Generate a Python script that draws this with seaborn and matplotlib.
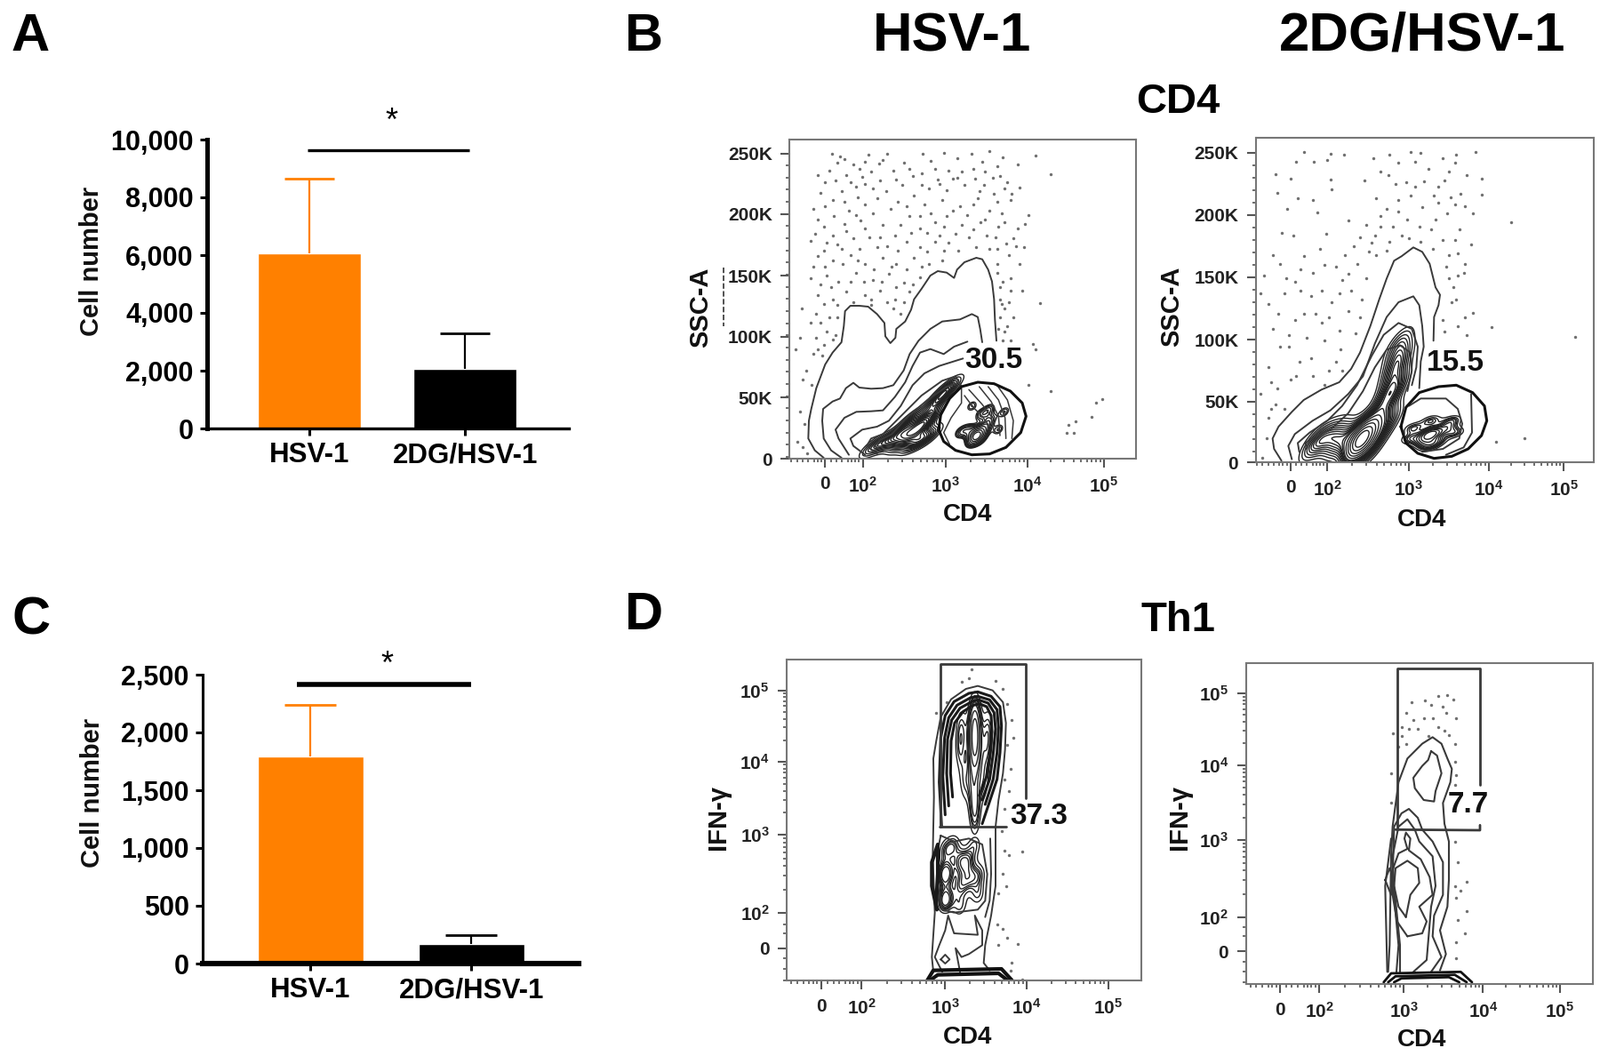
import numpy as np
import pandas as pd
import matplotlib
matplotlib.use("Agg")
import matplotlib.pyplot as plt
import seaborn as sns

W, H = 1800, 1188

sns.set_theme(style="white")
plt.rcParams["font.family"] = ["Liberation Sans", "DejaVu Sans"]
plt.rcParams["mathtext.fontset"] = "custom"
plt.rcParams["mathtext.bf"] = "Liberation Sans:bold"
plt.rcParams["mathtext.rm"] = "Liberation Sans:bold"

# bar data
groups = ["HSV-1", "2DG/HSV-1"]
bar_colors = ["#ff8000", "#000000"]
a_values = [6050, 2050]
a_errors = [2600, 1250]
c_values = [1790, 170]
c_errors = [450, 75]
a_ticks = [0, 2000, 4000, 6000, 8000, 10000]
c_ticks = [0, 500, 1000, 1500, 2000, 2500]

ssc_labels = ["0", "50K", "100K", "150K", "200K", "250K"]
ifn_labels = ["0", r"$\mathbf{10^2}$", r"$\mathbf{10^3}$", r"$\mathbf{10^4}$", r"$\mathbf{10^5}$"]
cd4_labels = ["0", r"$\mathbf{10^2}$", r"$\mathbf{10^3}$", r"$\mathbf{10^4}$", r"$\mathbf{10^5}$"]

b1_outer = [(500,1125),(470,1100),(448,1060),(450,1000),(458,960),(475,890),(505,810),(530,770),(560,735),(568,680),(572,630),(590,612),(620,612),(650,615),(680,640),(705,670),(708,715),(725,738),(742,720),(745,690),(775,665),(795,625),(805,590),(830,555),(860,510),(885,495),(915,500),(940,518),(950,490),(975,465),(1015,450),(1035,455),(1055,490),(1068,530),(1075,590),(1078,660),(1083,730)]
b1_second = [(560,1125),(525,1100),(500,1060),(495,1000),(498,960),(530,935),(555,925),(575,890),(600,872),(620,888),(660,892),(700,890),(735,880),(770,830),(790,775),(820,730),(860,690),(900,665),(960,658),(1000,640),(1020,650),(1028,690),(1035,735)]
b1_third = [(585,1115),(550,1060),(540,1030),(570,990),(610,970),(660,968),(700,965),(740,920),(775,870),(800,815),(825,770),(860,758),(905,775),(940,750),(985,733)]
b1_fourth = [(640,1115),(600,1085),(590,1060),(630,1030),(680,1020),(720,1000),(760,950),(800,880),(840,840),(890,815),(970,790)]
b1_blob_a = [(680,1112),(645,1085),(660,1060),(700,1045),(760,985),(830,915),(900,865),(945,850),(965,885)]
b1_blob_b = [(700,1105),(672,1085),(690,1065),(730,1045),(785,985),(850,930),(915,885),(945,875)]
b1_arcs = [[(1135,1060),(1140,1000),(1120,930),(1085,880)],
           [(1115,1060),(1112,990),(1090,930),(1055,885)],
           [(1095,1050),(1090,985),(1065,935),(1025,885)],
           [(1075,1040),(1065,985),(1035,945),(990,895)],
           [(1060,1020),(1035,985),(1005,955),(975,915)],
           [(965,890),(965,940),(930,990),(905,1040),(925,1080)]]
b1_gate = [(888,1030),(895,980),(925,925),(965,885),(1020,870),(1075,875),(1130,900),(1170,940),(1183,985),(1165,1040),(1115,1090),(1060,1112),(1000,1115),(945,1100),(905,1070),(888,1030)]
b1_left_peaks = [(700,1075),(740,1060),(770,1030),(820,1030),(800,1075),(850,990),(880,940),(930,880),(760,1075),(830,1060),(860,1050),(800,990),(660,1090),(900,910),(790,1040),(840,1010)]
b1_right_peaks = [(1020,1050),(1010,1060),(1040,1030),(1000,1070),(1060,1000),(1030,980),(985,1030),(1090,1030),(960,1040),(1060,960),(1000,950),(1110,970),(1020,1040),(1030,1060),(1005,1045)]
b1_dots = [(528,100),(555,108),(650,102),(715,100),(835,100),(905,97),(1000,100),(1060,90),(1105,112),(1215,105),
(545,128),(600,135),(640,125),(688,132),(770,130),(860,122),(950,115),(1035,125),(1085,140),(1155,135),
(480,170),(520,155),(575,170),(630,178),(735,155),(800,175),(885,185),(935,183),(1010,183),(1070,180),(1265,168),
(490,232),(560,225),(610,210),(665,215),(710,225),(805,240),(855,215),(915,222),(975,205),(1040,205),(1110,215),(1160,212),
(465,285),(505,275),(585,292),(640,270),(750,262),(825,310),(875,330),(935,290),(1005,270),(1060,290),(1130,255),(1190,305),
(500,345),(570,335),(625,325),(690,380),(760,340),(825,350),(905,345),(965,340),(1030,330),(1090,345),(1155,350),(1180,335),
(455,392),(510,400),(545,405),(600,385),(655,380),(715,410),(780,395),(825,415),(875,395),(920,400),(990,380),(1050,375),(1115,402),(1175,415),
(480,445),(530,460),(590,440),(640,470),(700,450),(745,470),(805,450),(855,470),(900,460),(1060,420),(1125,440),(1160,470),
(455,520),(510,510),(550,530),(610,500),(665,525),(720,505),(770,535),(825,515),(1085,500),(1130,520),(1170,562),
(480,575),(530,590),(575,565),(640,575),(690,560),(740,590),(790,565),(1095,590),(1110,620),(1230,602),
(425,620),(475,640),(545,650),(490,670),(735,620),(760,640),(1095,650),(1120,680),(1110,700),
(455,670),(420,720),(475,720),(500,745),(540,710),(1105,730),(1205,740),
(405,760),(465,775),(495,780),(440,830),(430,860),(460,880),(1215,760),
(420,970),(435,1010),(410,1070),(430,1090),(445,1110),(1190,880),(1265,900),(1420,940),(1440,928),(1405,988),(1350,1002),(1325,1015),(1320,1040),(1345,1040)]
b1_dots_more = [(570,118),(620,150),(660,160),(700,120),(745,185),(790,150),(830,165),(875,150),(920,155),(965,160),(1005,150),(1045,160),(1095,175),(1120,195),
(505,195),(540,190),(590,195),(640,200),(690,190),(765,205),(830,205),(890,200),(950,180),(1025,225),(1075,235),(1135,235),
(530,255),(570,260),(615,245),(680,250),(725,285),(780,275),(840,270),(900,255),(960,275),(1020,250),(1085,260),(1100,300),
(480,320),(535,310),(610,305),(665,300),(700,340),(790,310),(860,300),(915,310),(985,305),(1045,320),(1110,330),
(470,370),(530,375),(575,360),(640,350),(740,375),(795,365),(850,365),(890,375),(945,370),(1005,355),(1080,380),(1140,385),
(500,425),(560,420),(620,420),(680,415),(750,425),(850,430),(905,425),(955,425),(1015,415),(1085,420),(1150,410),
(465,480),(505,480),(565,470),(615,460),(670,490),(730,480),(780,490),(830,480),(1085,470),(1105,530),(1130,560),
(490,540),(525,550),(590,530),(635,530),(695,530),(745,550),(800,540),(1095,550),(1125,600),
(500,605),(545,610),(600,600),(660,590),(715,600),(770,600),(1100,605),(1140,650),
(520,650),(510,700),(480,760),(1090,690),(1130,730),(530,725),(660,610)]

b2_outer = [(455,1135),(430,1095),(425,1060),(445,1020),(490,970),(530,930),(590,895),(650,870),(690,825),(720,770),(755,680),(785,590),(810,520),(835,460),(860,445),(900,415),(930,430),(955,470),(965,510),(975,550),(990,575),(985,610),(970,650),(968,730)]
b2_second = [(490,1130),(478,1085),(500,1045),(560,1000),(620,965),(680,910),(730,850),(770,740),(810,650),(850,600),(900,580),(920,610),(930,680),(935,750),(925,800),(920,890)]
b2_third = [(515,1105),(510,1075),(550,1040),(610,1000),(660,950),(710,880),(760,780),(800,710),(850,670),(895,690),(915,750),(910,820),(895,880)]
b2_fourth = [(540,1095),(535,1075),(565,1055),(620,1030),(680,975),(730,900),(770,820),(810,760),(855,745),(890,770),(895,830),(880,900)]
b2_gate_outer = [(885,950),(925,925),(1010,925),(1050,960),(1065,1010),(1055,1060),(1000,1095),(930,1105)]
b2_gate_line = [(1095,910),(1098,1040),(1070,1090),(1010,1115)]
b2_gate = [(858,1020),(875,955),(920,905),(985,885),(1045,880),(1100,905),(1140,950),(1148,1000),(1130,1050),(1085,1095),(1030,1120),(970,1127),(915,1110),(875,1075),(858,1020)]
b2_left_peaks = [(720,1050),(700,1100),(760,1090),(650,1080),(780,1000),(810,920),(835,840),(850,790),(600,1060),(820,1000),(740,1060),(840,890),(560,1080),(640,1050),(720,1060),(710,1040),(730,1090),(850,740)]
b2_right_peaks = [(960,1045),(930,1070),(980,1070),(900,1025),(1010,1025),(960,1000),(1040,1040),(890,1060),(1030,1000),(950,1085),(965,1040),(950,1050)]
b2_dots = [(530,92),(620,100),(665,103),(820,103),(890,92),(925,97),(1045,103),(1110,93),
(485,183),(505,125),(565,125),(610,120),(765,115),(850,130),(905,125),(1000,115),(1020,160),(1080,170),(1130,183),
(435,168),(620,185),(735,190),(815,170),(875,195),(935,192),(985,210),(1040,130),
(440,232),(510,250),(560,255),(625,220),(850,255),(890,240),(970,240),(1130,238),(1075,275),
(475,285),(575,298),(680,325),(790,310),(850,295),(930,280),(1015,300),(1230,330),
(455,365),(495,375),(605,370),(720,380),(770,375),(860,375),(960,355),(1095,405),
(425,440),(530,445),(585,420),(670,440),(750,430),(810,425),(1050,435),(1010,480),
(395,510),(450,470),(500,530),(600,475),(660,525),(710,470),(1070,500),(1035,550),
(385,570),(410,605),(465,570),(555,580),(625,600),(690,560),(1030,600),(1100,635),
(425,690),(480,710),(530,640),(590,670),(650,695),(705,705),(1000,660),(1165,685),(1080,710),(1445,718),
(410,820),(480,750),(515,800),(555,790),(615,830),(655,760),(485,860),(440,890),
(385,910),(435,945),(465,960),(410,990),(405,1060),(390,1125),(1180,1070),(1275,1058)]
b2_dots_more = [(790,160),(840,200),(905,210),(950,150),(1005,190),(1060,235),(775,250),(810,285),(880,320),(920,345),(985,265),(1025,245),(1040,270),
(740,340),(790,345),(830,345),(885,385),(925,395),(975,320),(1000,390),(1055,355),(1100,300),
(700,410),(760,400),(775,440),(820,395),(965,420),(1020,440),(1040,390),(1075,470),
(520,490),(560,500),(640,480),(680,505),(740,520),(1050,510),(1020,520),
(470,520),(520,560),(590,560),(650,570),(725,590),(1045,590),(1075,650),(1005,700),
(445,640),(500,660),(570,640),(615,650),(680,630),(720,650),(1050,680),
(450,750),(540,720),(600,730),(640,800),(660,830),(505,850),(560,850),(600,880),(420,870),(420,960)]

d1_outer = [(810,1090),(805,1040),(815,890),(808,700),(812,500),(810,370),(820,310),(835,230),(870,170),(920,135),(960,125),(1010,140),(1045,180),(1055,250),(1052,340),(1045,420),(1030,510),(1020,600),(1020,700),(1020,800),(1005,900),(985,1000),(980,1060),(1000,1085)]
d1_arch_a = [(838,600),(830,450),(835,300),(850,225),(880,178),(930,150),(960,145),(1005,160),(1035,195),(1040,260),(1035,350),(1025,440),(995,530),(975,590)]
d1_arch_b = [(850,560),(842,430),(848,300),(862,232),(890,190),(935,165),(960,160),(1000,172),(1025,205),(1030,265),(1025,350),(1012,440),(985,525)]
d1_arch_c = [(862,530),(855,420),(858,305),(872,240),(900,200),(940,178),(962,172),(995,183),(1015,215),(1020,270),(1012,355),(1000,440),(975,510)]
d1_arch_d = [(875,500),(868,420),(870,310),(882,250),(910,212),(945,190),(965,185),(990,195),(1005,225),(1008,280),(1000,360),(990,430),(965,495)]
d1_low_outer = [(835,630),(880,650),(930,640),(975,660),(992,760),(985,850),(960,880),(880,890),(840,880),(825,800),(825,680),(835,630)]
d1_low_right = [(1002,640),(1005,760),(1000,850),(985,905)]
d1_band = [(790,1118),(810,1085),(1040,1080),(1075,1118)]
d1_band_inner = [(800,1118),(825,1100),(1030,1095),(1060,1118)]
d1_ring_low = [(840,1090),(815,1040),(830,1000),(850,950),(860,900),(880,960),(960,965),(950,900),(975,950),(975,1000),(930,1030),(905,1040),(885,1010),(900,1090)]
d1_small_loop = [(835,1048),(850,1032),(865,1048),(850,1062),(835,1048)]
d1_left_edge = [(822,880),(805,800),(805,720),(825,660),(825,760),(820,850)]
d1_gate_left = [(833,600),(833,52),(1122,52),(1122,505)]
d1_gate_bottom = [(830,600),(1055,600)]
d1_top_peaks = [(950,220),(950,260),(950,300),(950,340),(950,370),(945,450),(950,520),(950,570),(905,260),(995,260),(900,340),(990,340),(915,450),(980,450),(950,240),(950,320)]
d1_low_peaks = [(855,760),(930,775),(925,715),(850,855),(845,760),(965,760),(880,660),(950,660),(850,840),(960,830),(900,870),(850,680),(900,720),(900,800)]
d1_dots = [(938,70),(930,100),(905,110),(1020,108),(1045,135),(855,180),(1060,185),(820,215),(1075,240),(1080,300),(1060,325),(1070,405),(1050,440),(1065,480),(1050,540),(1040,615),(1050,680),(1065,695),(1110,685),(1045,760),(1055,800),(1030,825),(1025,930),(1045,945),(1060,975),(1095,995),(1030,1000),(1075,1060),(1070,1085),(1110,1115)]

d2_outer = [(815,1090),(820,1000),(825,700),(830,600),(850,450),(880,370),(930,320),(965,298),(995,320),(1015,370),(1030,405),(1025,450),(1000,520),(1005,590),(1020,650),(1020,780),(1015,870),(990,950),(1010,1030),(990,1085)]
d2_top_loop = [(960,345),(980,360),(995,420),(975,480),(970,515),(935,510),(905,470),(900,435),(930,395),(950,375),(960,345)]
d2_second = [(843,1090),(850,1000),(830,780),(835,600),(860,555),(885,540),(915,570),(930,610),(965,650),(1000,720),(1000,830),(970,900),(965,970),(995,1040),(960,1090)]
d2_third = [(855,1090),(855,1000),(835,800),(830,700),(850,600),(880,575),(905,610),(920,650),(965,700),(975,800),(960,870),(945,1050),(900,1090)]
d2_fourth = [(880,970),(845,920),(830,830),(825,760),(850,690),(880,675),(870,640),(875,620),(890,640),(885,680),(925,710),(955,770),(965,830),(920,870),(945,920),(930,960),(880,970)]
d2_fifth = [(875,905),(850,870),(835,800),(840,740),(880,715),(915,740),(920,790),(890,830),(880,880),(875,905)]
d2_left_loop = [(805,780),(820,740),(835,780),(825,830),(805,780)]
d2_left_lines = [(812,1090),(805,800),(825,640)]
d2_band = [(800,1125),(825,1095),(1060,1090),(1098,1125)]
d2_band_inner = [(815,1125),(840,1105),(1040,1100),(1080,1125)]
d2_band_inner2 = [(835,1125),(860,1112),(1020,1108),(1055,1125)]
d2_gate_left = [(845,610),(845,65),(1125,65),(1125,460)]
d2_gate_bottom = [(840,610),(1125,612),(1125,595)]
d2_dots = [(895,180),(940,175),(985,160),(1015,155),(1035,170),(960,190),(1000,195),(875,215),(900,240),(935,235),(965,235),(1010,215),(1045,235),(860,265),(885,270),(915,270),(985,265),(1005,275),(830,285),(860,295),(950,295),(1020,290),(875,320),(850,330),(1040,320),(1040,380),(825,420),(1045,425),(1040,460),(825,520),(1040,650),(1050,720),(1040,800),(1080,785),(1060,815),(1045,840),(1080,885),(1050,915),(1075,960),(1045,990),(1045,1045)]

panels = {
    "b1": dict(origin=(760,140), frame=(385,1555,50,1128)),
    "b2": dict(origin=(1290,140), frame=(368,1510,45,1140)),
    "d1": dict(origin=(780,730), frame=(315,1512,35,1120)),
    "d2": dict(origin=(1290,730), frame=(335,1505,48,1132)),
}


def box(left, right, top, bottom):
    return [left / W, 1 - bottom / H, (right - left) / W, (bottom - top) / H]


def bar_panel(rect, values, errors, ticks, xlim, width, cap, sig_y, sig_x, sig_lw, star, spine_w, ylab_px):
    ax = fig.add_axes(box(*rect))
    df = pd.DataFrame({"group": groups, "value": values})
    sns.barplot(data=df, x="group", y="value", hue="group", palette=bar_colors, order=groups,
                hue_order=groups, width=width, saturation=1, legend=False, ax=ax)
    for i in range(2):
        eb = ax.errorbar(i, values[i], yerr=[[0], [errors[i]]], color=bar_colors[i],
                         capsize=cap, elinewidth=1.6, capthick=2, clip_on=False)
        eb[1][0].set_visible(False)
    ax.plot(sig_x, [sig_y, sig_y], color="black", lw=sig_lw, clip_on=False, solid_capstyle="butt")
    ax.text(star[0], star[1], "*", fontsize=26, ha="center", va="center", color="black")
    ax.set_xlim(*xlim)
    ax.set_ylim(0, ticks[-1])
    ax.set_yticks(ticks)
    ax.set_yticklabels([f"{t:,}" for t in ticks], fontsize=22, fontweight="bold", color="black")
    ax.set_xticks([0, 1])
    ax.set_xticklabels(groups, fontsize=22.5, fontweight="bold", color="black")
    ax.set_xlabel("")
    ax.set_ylabel("")
    fig.text(ylab_px[0] / W, 1 - ylab_px[1] / H, "Cell number", fontsize=21, fontweight="bold",
             rotation=90, ha="center", va="center", color="#111111")
    ax.tick_params(axis="y", length=6, width=2.2, color="black", left=True, pad=5)
    ax.tick_params(axis="x", length=6, width=2.2, color="black", bottom=True, pad=5)
    sns.despine(ax=ax)
    ax.spines["left"].set_linewidth(spine_w[0])
    ax.spines["left"].set_color("black")
    ax.spines["bottom"].set_linewidth(spine_w[1])
    ax.spines["bottom"].set_color("black")
    return ax


def decade_minor(majors):
    out = []
    for lo, hi in zip(majors[:-1], majors[1:]):
        out += [lo + np.log10(k) * (hi - lo) for k in range(2, 10)]
    return out


def flow_panel(key):
    ox, oy = panels[key]["origin"]
    l, r, t, b = panels[key]["frame"]
    ax = fig.add_axes(box(ox + l / 3, ox + r / 3, oy + t / 3, oy + b / 3))
    return ax


def trace(ax, pts, lw=1.4, color="#3a3a3a"):
    arr = np.array(pts, dtype=float)
    sns.lineplot(x=arr[:, 0], y=arr[:, 1], sort=False, estimator=None, color=color, lw=lw, ax=ax)


def dots(ax, pts):
    arr = np.array(pts, dtype=float)
    sns.scatterplot(x=arr[:, 0], y=arr[:, 1], s=6, color="#222222", alpha=0.65, linewidth=0, ax=ax)


def density(ax, pts, levels, thresh, bw, lw=1.0, color="#222222"):
    arr = np.array(pts, dtype=float)
    sns.kdeplot(x=arr[:, 0], y=arr[:, 1], levels=levels, thresh=thresh, bw_adjust=bw,
                color=color, linewidths=lw, ax=ax)


def finish_flow(ax, key, xt, yt, ylabels, yname, ylab_pos, xlab_pos, value, value_pos, fine_y):
    l, r, t, b = panels[key]["frame"]
    ax.set_xlim(l, r)
    ax.set_ylim(b, t)
    ax.set_xticks(xt)
    ax.set_xticklabels(cd4_labels, fontsize=15, fontweight="bold", color="#222222")
    ax.set_yticks(yt)
    ax.set_yticklabels(ylabels, fontsize=15, fontweight="bold", color="#222222")
    minor_x = decade_minor(xt[1:]) + [xt[1] - (xt[1] - xt[0]) * f for f in (0.1, 0.2, 0.3, 0.4, 0.55, 0.7, 0.85, 1.0)]
    minor_x += [xt[0] - (xt[1] - xt[0]) * f for f in (0.1, 0.2, 0.3, 0.45, 0.6, 0.75, 0.9)]
    ax.set_xticks([m for m in minor_x if l < m < r], minor=True)
    ax.set_yticks(fine_y, minor=True)
    ax.tick_params(axis="both", which="major", length=7, width=1.5, color="#555555", left=True, bottom=True, pad=7)
    ax.tick_params(axis="both", which="minor", length=3, width=1.2, color="#555555", left=True, bottom=True)
    ax.set_xlabel("")
    ax.set_ylabel("")
    for sp in ax.spines.values():
        sp.set_color("#777777")
        sp.set_linewidth(1.5)
    ax.text(*xlab_pos, "CD4", fontsize=20, fontweight="bold", ha="center", va="center", color="#111111", clip_on=False)
    ax.text(*ylab_pos, yname, fontsize=21, fontweight="bold", rotation=90, ha="center", va="center", color="#111111", clip_on=False)
    ax.text(*value_pos, value, fontsize=24, fontweight="bold", ha="center", va="center", color="#111111", zorder=6)


fig = plt.figure(figsize=(W / 100, H / 100), dpi=100, facecolor="white")

bar_panel((233, 640, 157, 482), a_values, a_errors, a_ticks, (-0.657, 1.668), 0.663, 20,
          9646, [-0.01, 1.03], 2.4, (0.53, 10600), (3.6, 2.4), (103, 294))
bar_panel((228, 651, 759, 1084), c_values, c_errors, c_ticks, (-0.671, 1.666), 0.657, 21,
          2415, [-0.083, 0.998], 4.0, (0.475, 2580), (2.2, 4.4), (104, 892))

# B, HSV-1
ax = flow_panel("b1")
dots(ax, b1_dots + b1_dots_more)
density(ax, b1_left_peaks, 16, 0.1, 0.75)
density(ax, b1_right_peaks, 11, 0.25, 0.7)
for pts in (b1_outer, b1_second, b1_third, b1_fourth, b1_blob_a, b1_blob_b):
    trace(ax, pts)
for pts in b1_arcs:
    trace(ax, pts, lw=1.1)
trace(ax, b1_gate, lw=2.2, color="#111111")
ax.plot([163, 163], [483, 680], ls="--", color="#333333", lw=1.2, clip_on=False)
finish_flow(ax, "b1", [505, 632, 912, 1188, 1445], [1128, 922, 717, 510, 303, 98], ssc_labels, "SSC-A",
            (85, 618), (985, 1318), "30.5", (1073, 795), list(range(138, 1128, 41)))

# B, 2DG/HSV-1
ax = flow_panel("b2")
dots(ax, b2_dots + b2_dots_more)
density(ax, b2_left_peaks, 18, 0.1, 0.7)
density(ax, b2_right_peaks, 11, 0.12, 0.8)
for pts in (b2_outer, b2_second, b2_third, b2_fourth, b2_gate_outer, b2_gate_line):
    trace(ax, pts)
trace(ax, b2_gate, lw=2.2, color="#111111")
finish_flow(ax, "b2", [485, 610, 885, 1155, 1408], [1140, 935, 727, 515, 305, 95], ssc_labels, "SSC-A",
            (85, 615), (930, 1335), "15.5", (1042, 805), list(range(137, 1140, 42)))

# D, HSV-1
ax = flow_panel("d1")
dots(ax, d1_dots)
density(ax, d1_top_peaks, 9, 0.15, 0.85)
density(ax, d1_low_peaks, 8, 0.2, 0.7)
for pts in (d1_outer, d1_ring_low, d1_small_loop, d1_low_outer, d1_low_right):
    trace(ax, pts)
for pts in (d1_arch_a, d1_arch_b, d1_arch_c, d1_arch_d):
    trace(ax, pts, lw=2.2, color="#1a1a1a")
trace(ax, d1_left_edge, lw=3, color="#1a1a1a")
trace(ax, d1_band, lw=3, color="#111111")
trace(ax, d1_band_inner, lw=3, color="#111111")
trace(ax, d1_gate_left, lw=2.0)
trace(ax, d1_gate_bottom, lw=2.0)
finish_flow(ax, "d1", [432, 568, 850, 1125, 1400], [1010, 892, 628, 380, 140], ifn_labels, "IFN-\u03b3",
            (85, 570), (925, 1310), "37.3", (1165, 565), decade_minor([892, 628, 380, 140]) + [1120, 1080, 1045, 960, 930])

# D, 2DG/HSV-1
ax = flow_panel("d2")
dots(ax, d2_dots)
for pts in (d2_outer, d2_top_loop, d2_second, d2_third, d2_fourth, d2_fifth, d2_left_loop, d2_left_lines):
    trace(ax, pts, lw=1.5)
for pts in (d2_band, d2_band_inner, d2_band_inner2):
    trace(ax, pts, lw=2.0, color="#111111")
trace(ax, d2_gate_left, lw=2.0)
trace(ax, d2_gate_bottom, lw=2.0)
finish_flow(ax, "d2", [450, 583, 868, 1135, 1395], [1020, 905, 645, 392, 150], ifn_labels, "IFN-\u03b3",
            (110, 570), (930, 1320), "7.7", (1085, 525), decade_minor([905, 645, 392, 150]) + [1125, 1090, 1055, 970, 940])

# panel letters and headings
headings = [("A", 13, 57, 43, "left"), ("B", 703, 57, 43, "left"), ("C", 13, 714, 43, "left"), ("D", 703, 708, 43, "left"),
            ("HSV-1", 1071, 57, 44.5, "center"), ("2DG/HSV-1", 1600, 57, 44.5, "center"),
            ("CD4", 1325, 127, 34, "center"), ("Th1", 1325, 710, 34, "center")]
for txt, px, py, size, ha in headings:
    fig.text(px / W, 1 - py / H, txt, fontsize=size, fontweight="bold", ha=ha, va="baseline", color="black")

fig.savefig("out.png", dpi=100)
